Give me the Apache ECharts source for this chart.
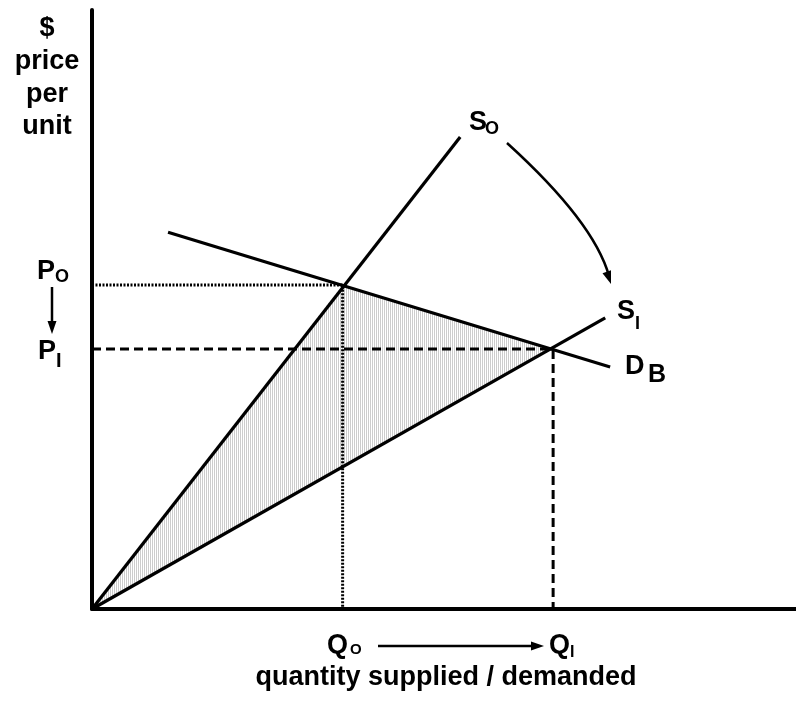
<!DOCTYPE html>
<html>
<head>
<meta charset="utf-8">
<script src="https://cdn.jsdelivr.net/npm/echarts@6/dist/echarts.min.js"></script>
<style>
	html, body { margin: 0; padding: 0; background: #fff; }
	#chart { width: 796px; height: 704px; }
</style>
</head>
<body>
<div id="chart"></div>
<script>
// curves, in axis units (x and y both run 0..10)
var supplyOld = [[0, 0], [5.23, 7.88]];
var supplyNew = [[0, 0], [7.29, 4.86]];
var demandB = [[1.08, 6.29], [7.36, 4.04]];
var eqOld = [3.56, 5.41];
var eqNew = [6.55, 4.34];
var shadedArea = [[0, 0], eqOld, eqNew];
var xRange = [0, 10];
var yRange = [0, 10];

var FONT = '"Liberation Sans", Arial, Helvetica, sans-serif';

// thin vertical hatch for the shaded triangle
function hatchPattern() {
	var c = document.createElement('canvas');
	c.width = 2;
	c.height = 2;
	var ctx = c.getContext('2d');
	ctx.fillStyle = '#ffffff';
	ctx.fillRect(0, 0, 2, 2);
	ctx.fillStyle = '#cccccc';
	ctx.fillRect(0, 0, 1, 2);
	return { image: c, repeat: 'repeat' };
}

function txt(x, y, s, size, align) {
	return {
		type: 'text',
		x: x,
		y: y,
		z: 100,
		style: {
			text: s,
			font: 'bold ' + size + 'px ' + FONT,
			fill: '#000',
			textAlign: align || 'left',
			textVerticalAlign: 'middle'
		}
	};
}

function arrowHead(tx, ty, dx, dy, len, wid) {
	var n = Math.sqrt(dx * dx + dy * dy);
	var ux = dx / n, uy = dy / n;
	var bx = tx - ux * len, by = ty - uy * len;
	return {
		type: 'polygon',
		z: 100,
		shape: { points: [[tx, ty], [bx - uy * wid / 2, by + ux * wid / 2], [bx + uy * wid / 2, by - ux * wid / 2]] },
		style: { fill: '#000' }
	};
}

function lineEl(x1, y1, x2, y2) {
	return {
		type: 'line',
		z: 100,
		shape: { x1: x1, y1: y1, x2: x2, y2: y2 },
		style: { stroke: '#000', lineWidth: 2.5 }
	};
}

var graphics = [
	// y axis title
	txt(47, 29, '$', 27, 'center'),
	txt(47, 62, 'price', 27, 'center'),
	txt(47, 95, 'per', 27, 'center'),
	txt(47, 127, 'unit', 27, 'center'),
	// P labels and arrow
	txt(37, 272, 'P', 27),
	txt(55, 277, 'O', 18),
	lineEl(52, 287, 52, 322),
	arrowHead(52, 334, 0, 1, 13, 9),
	txt(38, 352, 'P', 27),
	txt(56, 361, 'I', 20),
	// curve labels
	txt(469, 123, 'S', 27),
	txt(485, 129, 'O', 18),
	txt(617, 312, 'S', 27),
	txt(635, 324, 'I', 18),
	txt(625, 367, 'D', 27),
	txt(648, 375, 'B', 25),
	// shift arrow from So to Si
	{
		type: 'bezierCurve',
		z: 100,
		shape: { x1: 507, y1: 143, x2: 609, y2: 276, cpx1: 594, cpy1: 222 },
		style: { stroke: '#000', lineWidth: 2.5, fill: null }
	},
	arrowHead(611, 284, 9, 26, 13, 9),
	// Q labels and arrow
	txt(327, 646, 'Q', 27),
	txt(350, 650, 'O', 15),
	lineEl(378, 646, 531, 646),
	arrowHead(544, 646, 1, 0, 13, 9),
	txt(549, 646, 'Q', 27),
	txt(570, 653, 'I', 16),
	txt(446, 678, 'quantity supplied / demanded', 27, 'center')
];

function solid(data) {
	return {
		type: 'line',
		data: data,
		symbol: 'none',
		silent: true,
		z: 5,
		lineStyle: { color: '#000', width: 3.2 },
		animation: false
	};
}

function guide(data, dash) {
	return {
		type: 'line',
		data: data,
		symbol: 'none',
		silent: true,
		z: 4,
		lineStyle: { color: '#000', width: 3, type: dash },
		animation: false
	};
}

var myChart = echarts.init(document.getElementById('chart'));
var option = {
	animation: false,
	backgroundColor: '#fff',
	grid: { left: 92, right: 0, top: 10, bottom: 95 },
	xAxis: {
		type: 'value',
		min: xRange[0],
		max: xRange[1],
		axisLine: { show: true, onZero: false, lineStyle: { color: '#000', width: 4 } },
		axisTick: { show: false },
		axisLabel: { show: false },
		splitLine: { show: false }
	},
	yAxis: {
		type: 'value',
		min: yRange[0],
		max: yRange[1],
		axisLine: { show: true, onZero: false, lineStyle: { color: '#000', width: 4 } },
		axisTick: { show: false },
		axisLabel: { show: false },
		splitLine: { show: false }
	},
	series: [
		{
			type: 'custom',
			silent: true,
			z: 1,
			data: [0],
			renderItem: function (params, api) {
				var pts = shadedArea.map(function (p) { return api.coord(p); });
				return {
					type: 'polygon',
					shape: { points: pts },
					style: { fill: hatchPattern(), stroke: null }
				};
			}
		},
		guide([[xRange[0], eqOld[1]], eqOld, [eqOld[0], yRange[0]]], [2, 1.5]),
		guide([[xRange[0], eqNew[1]], eqNew, [eqNew[0], yRange[0]]], [9, 5]),
		solid(supplyOld),
		solid(supplyNew),
		solid(demandB)
	],
	graphic: graphics
};
myChart.setOption(option);
</script>
</body>
</html>
